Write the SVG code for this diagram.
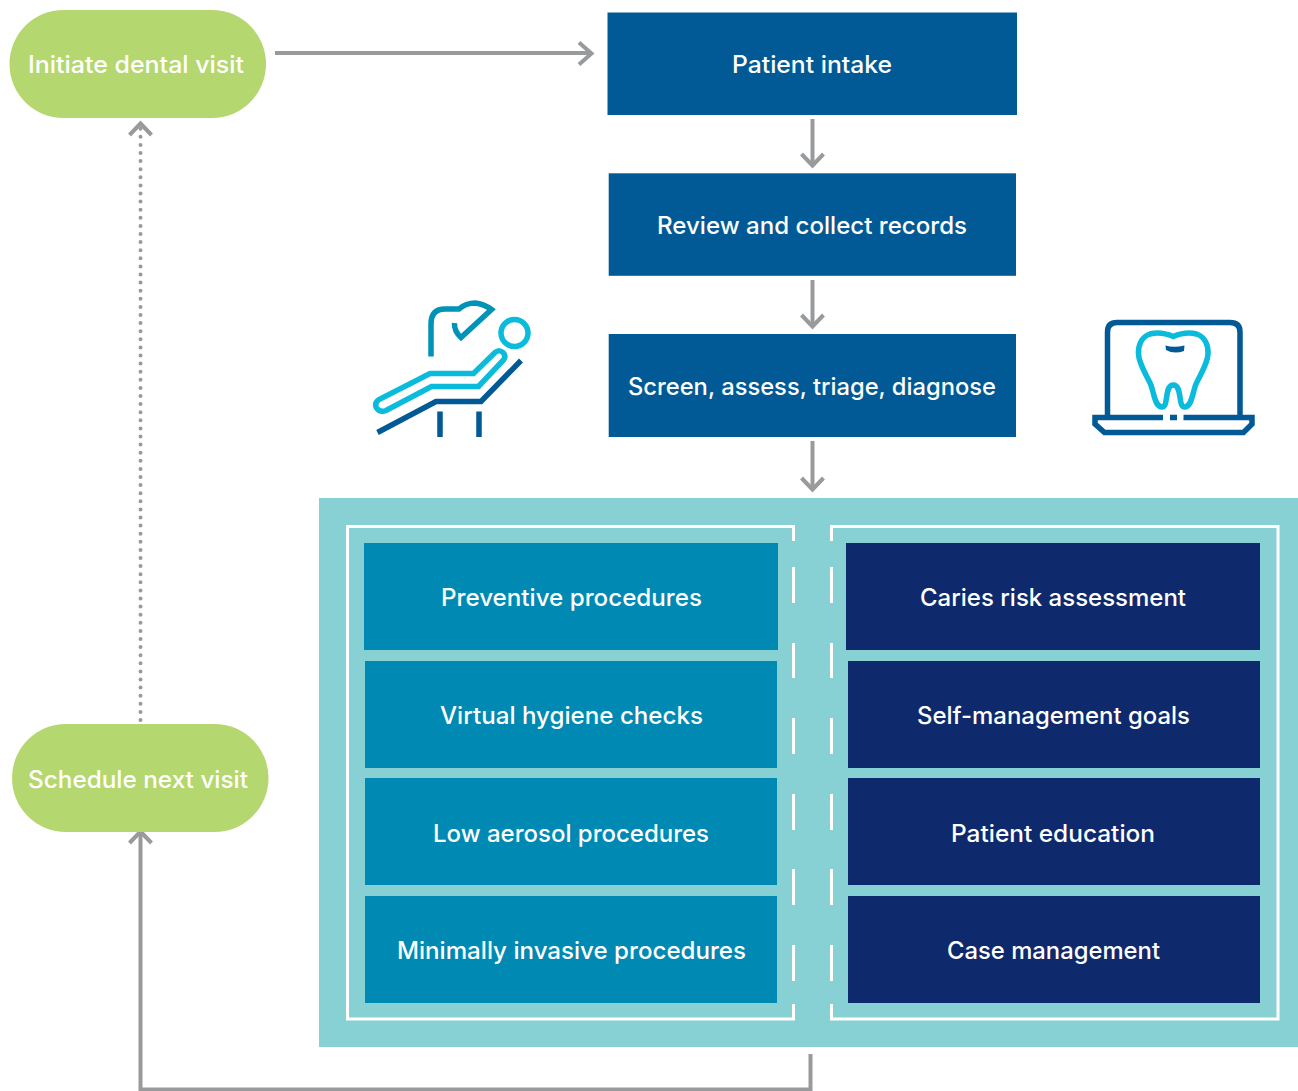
<svg xmlns="http://www.w3.org/2000/svg" width="1298" height="1091" viewBox="0 0 1298 1091">
<defs>
<style>
text{font-family:"Inter","Liberation Sans",sans-serif;font-size:24px;font-weight:500;fill:#fff;text-anchor:middle}
.c{fill:none;stroke:#999a9c;stroke-width:4}
.head{fill:none;stroke:#999a9c;stroke-width:4}
.frame{fill:none;stroke:#fff;stroke-width:3}
.blue{fill:#015a96}
.teal{fill:#0089b3}
.navy{fill:#0f2a6c}
.pillb{fill:#b5d76f}
.i1{fill:none;stroke:#0093b8;stroke-width:5.500}
.i2{fill:none;stroke:#0abbdc;stroke-width:5.500}
.i3{fill:none;stroke:#015a96;stroke-width:5.500}
</style>
</defs>
<rect id="panel" x="319" y="498" width="979" height="549" fill="#87d1d4"/>
<g id="connectors">
<path class="c" d="M275 53H591"/><path class="head" d="M579 42.500L591.500 53.500L579 64.500"/>
<path class="c" d="M812.500 119V165"/><path class="head" d="M801.500 154L812.500 165.500L823.500 154"/>
<path class="c" d="M812.500 280V326"/><path class="head" d="M801.500 315L812.500 326.500L823.500 315"/>
<path class="c" d="M812.500 441V489"/><path class="head" d="M801.500 478L812.500 489.500L823.500 478"/>
<path class="c" d="M810.500 1054V1089.500H140.500V832"/><path class="head" d="M129.500 843L140.500 831.500L151.500 843"/>
<path d="M140.500 720V126" fill="none" stroke="#999a9c" stroke-width="4" stroke-linecap="round" stroke-dasharray="0 8.100"/><path class="head" d="M129.500 135L140.500 123.500L151.500 135"/>
</g>
<g id="frames">
<path class="frame" d="M793.500 541V526.500H347.500V1019H793.500V1004"/>
<path class="frame" d="M793.500 567V603M793.500 643V678M793.500 718V754M793.500 794V830M793.500 869V905M793.500 945V981"/>
<path class="frame" d="M831.500 541V526.500H1278V1019H831.500V1004"/>
<path class="frame" d="M831.500 567V603M831.500 643V678M831.500 718V754M831.500 794V830M831.500 869V905M831.500 945V981"/>
</g>
<g id="initiate"><rect class="pillb" x="9.500" y="10" width="256.500" height="108" rx="54"/><text x="136" y="73" textLength="216" lengthAdjust="spacingAndGlyphs">Initiate dental visit</text></g>
<g id="schedule"><rect class="pillb" x="12" y="724" width="256.500" height="108" rx="54"/><text x="138" y="788" textLength="220" lengthAdjust="spacingAndGlyphs">Schedule next visit</text></g>
<g id="intake"><rect class="blue" x="607.500" y="12.500" width="409.500" height="102.500"/><text x="812" y="73" textLength="160" lengthAdjust="spacingAndGlyphs">Patient intake</text></g>
<g id="review"><rect class="blue" x="608.700" y="173.300" width="407.300" height="102.500"/><text x="812" y="234" textLength="310" lengthAdjust="spacingAndGlyphs">Review and collect records</text></g>
<g id="screen"><rect class="blue" x="608.700" y="334" width="407.300" height="103"/><text x="812" y="395" textLength="368" lengthAdjust="spacingAndGlyphs">Screen, assess, triage, diagnose</text></g>
<g id="preventive"><rect class="teal" x="364" y="543" width="414" height="107"/><text x="571.500" y="606" textLength="261" lengthAdjust="spacingAndGlyphs">Preventive procedures</text></g>
<g id="virtual"><rect class="teal" x="365" y="661" width="412" height="107"/><text x="571.500" y="724" textLength="263" lengthAdjust="spacingAndGlyphs">Virtual hygiene checks</text></g>
<g id="aerosol"><rect class="teal" x="365" y="778" width="412" height="107"/><text x="571" y="842" textLength="276" lengthAdjust="spacingAndGlyphs">Low aerosol procedures</text></g>
<g id="invasive"><rect class="teal" x="365" y="896" width="412" height="107"/><text x="571.500" y="959" textLength="349" lengthAdjust="spacingAndGlyphs">Minimally invasive procedures</text></g>
<g id="caries"><rect class="navy" x="846" y="543" width="414" height="107"/><text x="1053" y="606" textLength="266" lengthAdjust="spacingAndGlyphs">Caries risk assessment</text></g>
<g id="goals"><rect class="navy" x="848" y="661" width="412" height="107"/><text x="1053.500" y="724" textLength="273" lengthAdjust="spacingAndGlyphs">Self-management goals</text></g>
<g id="education"><rect class="navy" x="848" y="778" width="412" height="107"/><text x="1053" y="842" textLength="204" lengthAdjust="spacingAndGlyphs">Patient education</text></g>
<g id="case"><rect class="navy" x="848" y="896" width="412" height="107"/><text x="1053.500" y="959" textLength="213" lengthAdjust="spacingAndGlyphs">Case management</text></g>
<g id="chair-icon">
<path class="i1" d="M431 356.500V324Q431 309 445 309H459Q466 303 475 303Q484 304 491.500 309.500L461 337.500Q454 331 454.500 323"/>
<circle class="i2" cx="514.500" cy="333" r="13.500"/>
<path class="i2" d="M430 373.500H473.500L495 352.500Q499 349 503 352.500Q506.500 356 503.500 360L478.500 386.500H431.500L386 410.500Q380 413 376.500 408Q374 403 379 399.500Z"/>
<path class="i3" d="M377.500 432.500L436 401.500H481L521 360.500"/>
<path class="i3" d="M440 411.500V437M479 411.500V437"/>
</g>
<g id="laptop-icon">
<path class="i3" d="M1107.500 417V332Q1107.500 322.500 1117 322.500H1230Q1240 322.500 1240 332V417"/>
<path class="i3" d="M1163 417.500H1095V424L1104.500 432.500H1243.500L1252 424V417.500H1183.500M1170 417.500H1177"/>
<path class="i2" d="M1173.300 336.500C1165 333 1157 332 1150 334C1141 337 1138 346 1138.500 354C1139 364 1146 374 1150.500 384C1154 392 1154.500 407 1162 407C1169 407 1164 385 1173.300 385C1182.600 385 1177.600 407 1184.600 407C1192 407 1192.600 392 1196 384C1200.500 374 1207.500 364 1208 354C1208.500 346 1205.500 337 1196.500 334C1189.500 332 1181.500 333 1173.300 336.500Z"/>
<path d="M1165.500 345.500Q1174 348 1184.500 345.500L1184 351Q1174 354.500 1166 350Z" fill="#015a96"/>
</g>
</svg>
